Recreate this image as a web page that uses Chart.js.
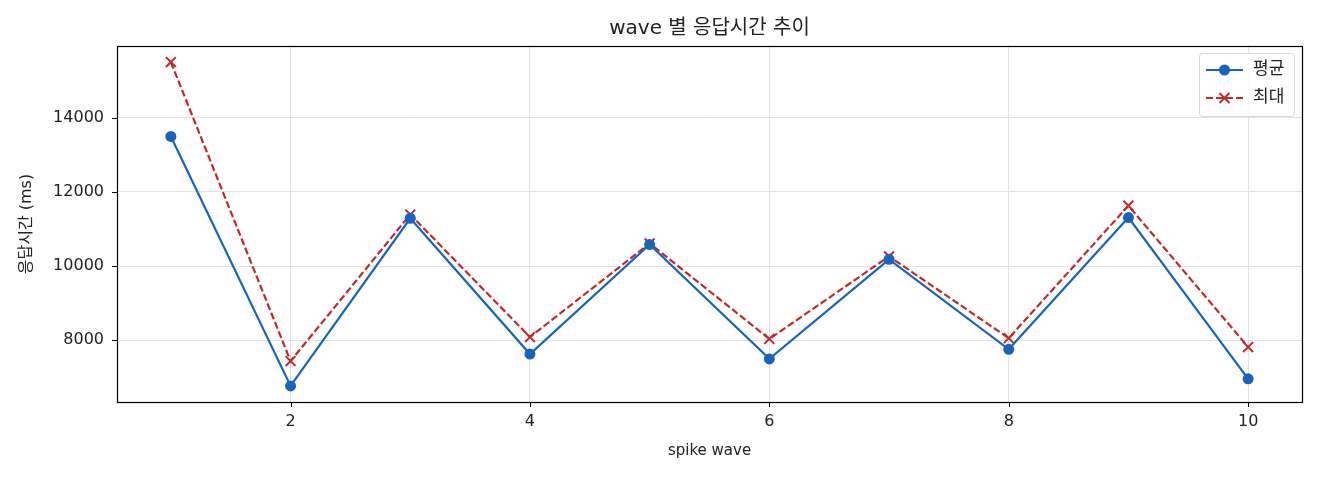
<!DOCTYPE html>
<html>
<head>
<meta charset="utf-8">
<script src="https://cdn.jsdelivr.net/npm/chart.js@4.4.1/dist/chart.umd.min.js"></script>
<style>
    html, body { margin: 0; padding: 0; background: #fff; }
    canvas { display: block; }
</style>
</head>
<body>
<canvas id="chart" width="1320" height="480"></canvas>
<script>
// --- Data ---
const waves = [1, 2, 3, 4, 5, 6, 7, 8, 9, 10];
const avgMs = [13500, 6760, 11290, 7620, 10580, 7490, 10180, 7750, 11310, 6950];
const maxMs = [15510, 7430, 11390, 8080, 10610, 8030, 10260, 8050, 11630, 7810];
const xTicks = [2, 4, 6, 8, 10];
const yTicks = [8000, 10000, 12000, 14000];

const FONT = '"DejaVu Sans", "Noto Sans CJK KR", sans-serif';
const BLUE = '#1565c0';
const RED = '#c62828';
const TEXT = '#222';

// Frame, tick marks, titles, legend (matplotlib look)
const decorPlugin = {
    id: 'decor',
    afterDraw(chart) {
        const ctx = chart.ctx;
        const area = chart.chartArea;
        const xs = chart.scales.x;
        const ys = chart.scales.y;
        ctx.save();

        // tick marks
        ctx.strokeStyle = '#000';
        ctx.lineWidth = 1;
        ctx.beginPath();
        xTicks.forEach(v => {
            const px = Math.round(xs.getPixelForValue(v)) + 0.5;
            ctx.moveTo(px, area.bottom);
            ctx.lineTo(px, area.bottom + 5);
        });
        yTicks.forEach(v => {
            const py = Math.round(ys.getPixelForValue(v)) + 0.5;
            ctx.moveTo(area.left, py);
            ctx.lineTo(area.left - 5, py);
        });
        ctx.stroke();

        // frame
        ctx.lineWidth = 1.2;
        ctx.strokeRect(area.left + 0.5, area.top + 0.5, area.right - area.left, area.bottom - area.top);

        // title
        ctx.fillStyle = TEXT;
        ctx.textAlign = 'center';
        ctx.textBaseline = 'middle';
        ctx.font = '20px ' + FONT;
        ctx.fillText('wave 별 응답시간 추이', (area.left + area.right) / 2, 29);

        // axis titles
        ctx.font = '15px ' + FONT;
        ctx.fillText('spike wave', (area.left + area.right) / 2, 451);
        ctx.save();
        ctx.translate(27, (area.top + area.bottom) / 2);
        ctx.rotate(-Math.PI / 2);
        ctx.font = '16px ' + FONT;
        ctx.fillText('응답시간 (ms)', 0, 0);
        ctx.restore();

        // legend
        const lx = 1199, ly = 53, lw = 95, lh = 63;
        ctx.fillStyle = 'rgba(255,255,255,0.85)';
        ctx.strokeStyle = '#d8d8d8';
        ctx.lineWidth = 1;
        ctx.beginPath();
        ctx.roundRect(lx + 0.5, ly + 0.5, lw, lh, 3);
        ctx.fill();
        ctx.stroke();

        const rows = [
            { label: '평균', color: BLUE, dash: [], marker: 'circle', y: 70 },
            { label: '최대', color: RED, dash: [7, 3], marker: 'cross', y: 98 }
        ];
        rows.forEach(r => {
            ctx.strokeStyle = r.color;
            ctx.lineWidth = 2;
            ctx.setLineDash(r.dash);
            ctx.beginPath();
            ctx.moveTo(1206, r.y);
            ctx.lineTo(1243, r.y);
            ctx.stroke();
            ctx.setLineDash([]);
            const cx = 1224.5;
            if (r.marker === 'circle') {
                ctx.fillStyle = r.color;
                ctx.beginPath();
                ctx.arc(cx, r.y, 5.5, 0, Math.PI * 2);
                ctx.fill();
            } else {
                ctx.lineWidth = 2;
                ctx.beginPath();
                ctx.moveTo(cx - 5, r.y - 5); ctx.lineTo(cx + 5, r.y + 5);
                ctx.moveTo(cx + 5, r.y - 5); ctx.lineTo(cx - 5, r.y + 5);
                ctx.stroke();
            }
            ctx.fillStyle = TEXT;
            ctx.textAlign = 'left';
            ctx.font = '17px ' + FONT;
            ctx.fillText(r.label, 1253, r.y);
        });

        ctx.restore();
    }
};

new Chart(document.getElementById('chart'), {
    type: 'line',
    data: {
        datasets: [
            {
                label: '평균',
                data: waves.map((w, i) => ({ x: w, y: avgMs[i] })),
                borderColor: BLUE,
                backgroundColor: BLUE,
                borderWidth: 2.2,
                pointStyle: 'circle',
                pointRadius: 5.5,
                pointBorderWidth: 0,
                tension: 0
            },
            {
                label: '최대',
                data: waves.map((w, i) => ({ x: w, y: maxMs[i] })),
                borderColor: RED,
                backgroundColor: RED,
                borderWidth: 2.2,
                borderDash: [7, 3],
                pointStyle: 'cross',
                rotation: 45,
                pointRadius: 7,
                pointBorderWidth: 2,
                tension: 0
            }
        ]
    },
    options: {
        responsive: false,
        animation: false,
        devicePixelRatio: 1,
        layout: { padding: { left: 0, right: 18, top: 46, bottom: 0 } },
        plugins: {
            legend: { display: false },
            title: { display: false },
            tooltip: { enabled: false }
        },
        scales: {
            x: {
                type: 'linear',
                min: 0.55,
                max: 10.45,
                afterBuildTicks: s => { s.ticks = xTicks.map(v => ({ value: v })); },
                afterFit: s => { s.height = 78; },
                grid: { color: '#e2e2e2', drawTicks: false },
                border: { display: false },
                ticks: { color: TEXT, font: { family: FONT, size: 16 }, padding: 10, maxRotation: 0 }
            },
            y: {
                min: 6325,
                max: 15945,
                afterBuildTicks: s => { s.ticks = yTicks.map(v => ({ value: v })); },
                afterFit: s => { s.width = 117; },
                grid: { color: '#e2e2e2', drawTicks: false },
                border: { display: false },
                ticks: { color: TEXT, font: { family: FONT, size: 16 }, padding: 13, callback: v => String(v) }
            }
        }
    },
    plugins: [decorPlugin]
});
</script>
</body>
</html>
